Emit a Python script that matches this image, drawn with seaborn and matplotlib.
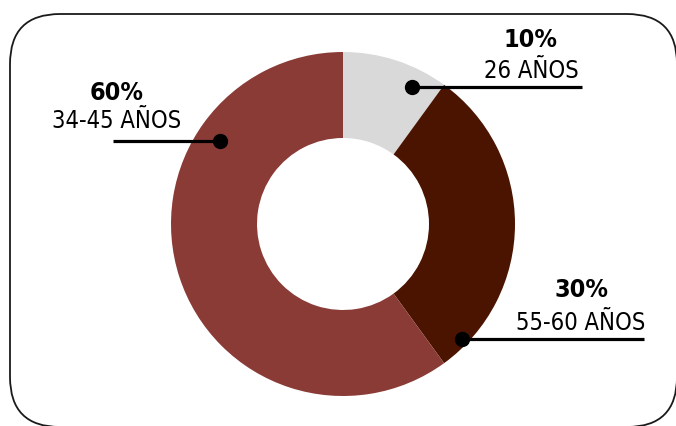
import matplotlib
matplotlib.use("Agg")
import matplotlib.pyplot as plt
import seaborn as sns
from matplotlib import font_manager
from matplotlib.patches import FancyBboxPatch

# data
groups = ["26 AÑOS", "55-60 AÑOS", "34-45 AÑOS"]
shares = [10, 30, 60]
colors = ["#d9d9d9", "#4a1400", "#8a3b36"]

sns.set_theme(style="white")


def stretch_val(f):
    s = f.stretch
    if isinstance(s, str):
        return font_manager.stretch_dict.get(s, 500)
    return s


# look for the narrowest condensed face, otherwise a narrow-ish sans
cond = [f for f in font_manager.fontManager.ttflist if stretch_val(f) < 500]
if cond:
    best = min(cond, key=stretch_val)
    font, stretch, size = best.name, stretch_val(best), 17
else:
    font, stretch, size = "Roboto", "normal", 16
plt.rcParams["font.family"] = [font, "DejaVu Sans"]

W, H = 676, 426
fig = plt.figure(figsize=(W / 100, H / 100), dpi=100)
ax = fig.add_axes([0, 0, 1, 1])

# rounded frame
frame = FancyBboxPatch((10, H - 427), 667, 413, boxstyle="round,pad=0,rounding_size=50",
                       fill=False, edgecolor="#1a1a1a", linewidth=1.3)
ax.add_patch(frame)

# donut
ax.pie(shares, colors=colors, startangle=90, counterclock=False,
       center=(343, H - 224), radius=172, frame=True,
       wedgeprops=dict(width=86, edgecolor="none"))
ax.set_xlim(0, W)
ax.set_ylim(0, H)
ax.set_aspect("equal")
ax.axis("off")

# callouts: (text x, pct baseline, label baseline, line y, line x0, line x1, dot x)
callouts = [
    (531, 47, 78, 87, 412, 582, 412),
    (581, 297, 330, 339, 462, 644, 462),
    (117, 100, 128, 141, 113, 220, 220),
]
for (tx, pb, lb, ly, x0, x1, dx), g, s in zip(callouts, groups, shares):
    ax.text(tx, H - pb, f"{s}%", ha="center", va="baseline", fontsize=size + 1,
            fontweight="bold", fontstretch=stretch, color="black")
    ax.text(tx, H - lb, g, ha="center", va="baseline", fontsize=size,
            fontweight="light", fontstretch=stretch, color="black")
    ax.plot([x0, x1], [H - ly, H - ly], color="black", linewidth=2.3, solid_capstyle="butt")
    ax.plot(dx, H - ly, "o", color="black", markersize=10)

fig.savefig("out.png", dpi=100)
